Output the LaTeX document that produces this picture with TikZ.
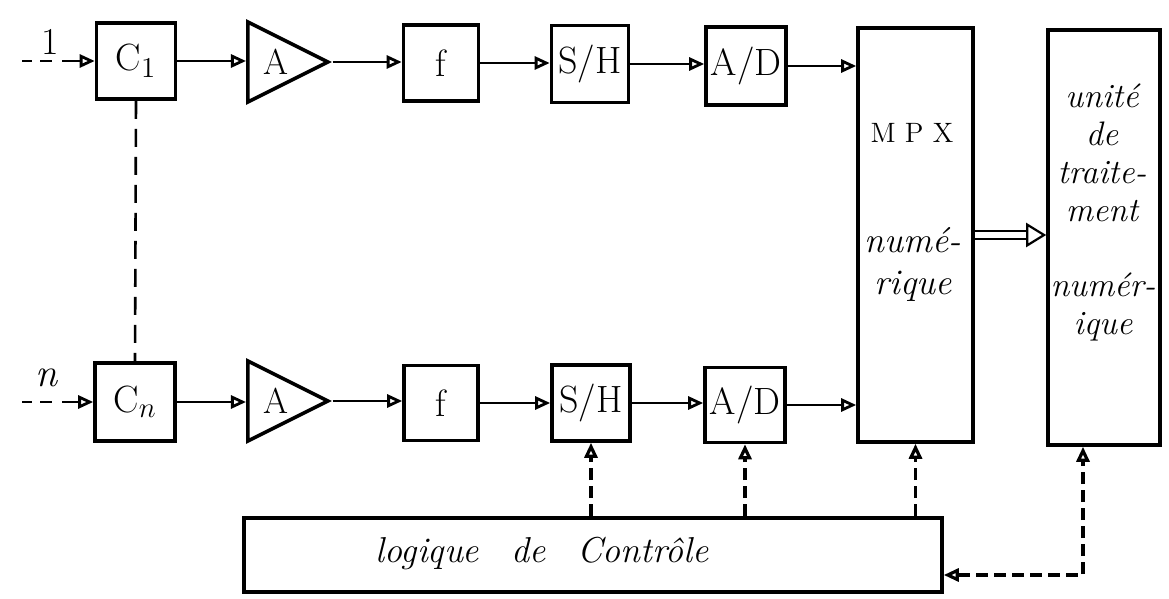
\documentclass[tikz,border=0pt]{standalone}
\usetikzlibrary{arrows.meta,shapes.geometric,calc}
\begin{document}
\begin{tikzpicture}[x=0.5pt,y=-0.5pt,
  >={Triangle[open,length=7.5pt,width=6.5pt]},
  blk/.style={draw,line width=1.8pt,inner sep=0pt,font=\fontsize{19}{22}\selectfont},
  amp/.style={draw,line width=1.8pt,isosceles triangle,isosceles triangle stretches,
    shape border rotate=0,minimum width=40pt,minimum height=40pt,inner sep=0pt,
    anchor=lower side,font=\fontsize{18}{21}\selectfont},
  sig/.style={line width=1.4pt,->},
  ctl/.style={sig,line width=1.6pt,dash pattern=on 6pt off 3pt},
  hand/.style={font=\itshape\fontsize{16}{19}\selectfont,align=center,inner sep=0pt}
]
\useasboundingbox (0,0) rectangle (1169,599);

% ---- channel 1 ----
\node[blk,minimum width=39.5pt,minimum height=38pt] (c1) at (136,61) {C$_1$};
\node[amp] (a1) at (246,62) {\hspace*{5pt}A};
\node[blk,minimum width=37.5pt,minimum height=38pt] (f1) at (441,63) {f};
\node[blk,minimum width=38.5pt,minimum height=38.5pt] (sh1) at (590,64) {S/H};
\node[blk,minimum width=40pt,minimum height=39pt] (ad1) at (746,66) {A/D};

% ---- channel n ----
\node[blk,minimum width=40pt,minimum height=39pt] (cn) at (135,402) {C$_n$};
\node[amp] (a2) at (246,401) {\hspace*{5pt}A};
\node[blk,minimum width=37pt,minimum height=37.5pt] (f2) at (441,403) {f};
\node[blk,minimum width=39pt,minimum height=38pt] (sh2) at (591,403) {S/H};
\node[blk,minimum width=40pt,minimum height=37.5pt] (ad2) at (745,405) {A/D};

% ---- multiplexer and processing unit ----
\node[blk,minimum width=57.5pt,minimum height=207pt] (mpx) at (915.5,235) {};
\node[blk,minimum width=56pt,minimum height=207.5pt] (unit) at (1104,237.5) {};
\node[font=\fontsize{14}{16}\selectfont] (mpxt) at (912,133) {M\,\,P\,\,X};
\node[hand,font=\itshape\fontsize{18}{21}\selectfont] (mpxn) at (913,264) {numé-\\rique};
\node[hand,font=\itshape\fontsize{17}{19}\selectfont] (unt1) at (1102,153) {unité\\de\\traite-\\ment};
\node[hand,font=\itshape\fontsize{17}{19}\selectfont] (unt2) at (1103,307) {numér-\\ique};

% ---- control logic ----
\node[blk,minimum width=349pt,minimum height=37pt] (logic) at (593,555) {};
\node[hand,font=\itshape\fontsize{18}{20}\selectfont] (logict) at (542,553)
  {logique\hspace{16pt}de\hspace{16pt}Contrôle};

% ---- inputs ----
\node[font=\fontsize{19}{22}\selectfont] (lab1) at (50,42) {1};
\node[font=\itshape\fontsize{20}{22}\selectfont] (labn) at (46,378) {n};
\coordinate (in1) at (22,61);
\coordinate (inn) at (22,402);
\draw[sig,dash pattern=on 5pt off 4pt on 6pt off 5pt on 40pt] (in1) -- (c1.west);
\draw[sig,dash pattern=on 5pt off 4pt on 6pt off 5pt on 40pt] (inn) -- (cn.west);

% ---- signal chains ----
\draw[sig] (c1.east) -- (c1.east -| a1.west);
\draw[sig] (a1.apex) -- (a1.apex -| f1.west);
\draw[sig] (f1.east) -- (f1.east -| sh1.west);
\draw[sig] (sh1.east) -- (sh1.east -| ad1.west);
\draw[sig] (ad1.east) -- (ad1.east -| mpx.west);

\draw[sig] (cn.east) -- (cn.east -| a2.west);
\draw[sig] (a2.apex) -- (a2.apex -| f2.west);
\draw[sig] (f2.east) -- (f2.east -| sh2.west);
\draw[sig] (sh2.east) -- (sh2.east -| ad2.west);
\draw[sig] (ad2.east) -- (ad2.east -| mpx.west);

\draw[line width=1.3pt,dash pattern=on 9pt off 5pt] (c1.south) -- (cn.north);

% ---- digital bus ----
\draw[line width=1.1pt,double,double distance=3pt,-{Triangle[open,length=10pt,width=12pt]}]
  (mpx.east) -- (mpx.east -| unit.west);

% ---- control lines ----
\draw[ctl] (logic.north -| sh2.south) -- (sh2.south);
\draw[ctl] (logic.north -| ad2.south) -- (ad2.south);
\draw[ctl] (logic.north -| mpx.south) -- (mpx.south);
\draw[ctl,<->] ([yshift=-10pt]logic.east) -| ([xshift=-10.5pt]unit.south);
\end{tikzpicture}
\end{document}
